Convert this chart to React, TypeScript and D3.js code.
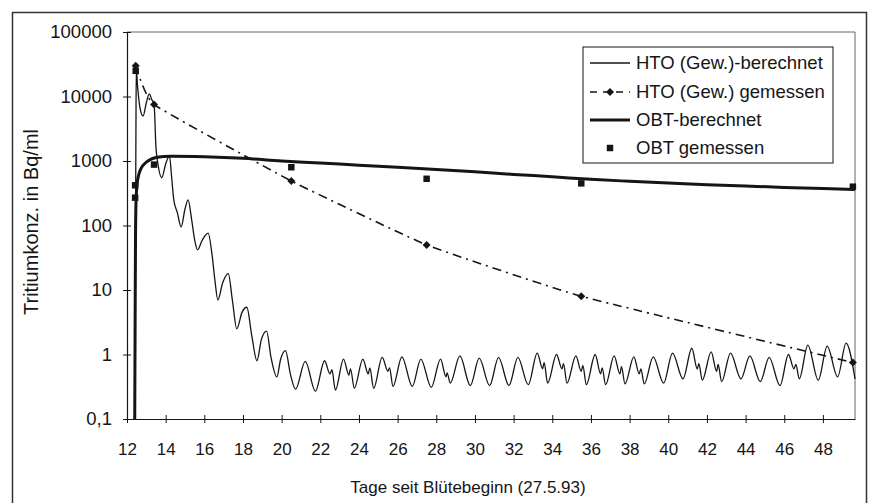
import React, { useEffect, useRef } from 'react';
import * as d3 from 'd3';

// HTO (Gew.)-berechnet: [Tag, Bq/ml] (peaks / notches / troughs)
const htoCalc: [number, number][] = [
	[12.4, 0.1], [12.43, 20], [12.46, 2000], [12.48, 27000], [12.55, 14000],
	[12.68, 6500], [12.83, 5000], [13.0, 8000], [13.15, 11000], [13.28, 9000],
	[13.4, 7500], [13.5, 1600], [13.6, 900], [13.8, 550], [14.0, 900],
	[14.2, 1200], [14.3, 600], [14.42, 250], [14.6, 160], [14.8, 95],
	[15.0, 180], [15.16, 250], [15.35, 120], [15.5, 60], [15.65, 42],
	[15.9, 60], [16.2, 76], [16.4, 35], [16.55, 14], [16.7, 7],
	[16.95, 13], [17.24, 18], [17.45, 7], [17.68, 2.5], [17.95, 4.5],
	[18.2, 5.4], [18.45, 2], [18.72, 0.8], [18.95, 1.7], [19.22, 2.3],
	[19.45, 0.9], [19.75, 0.45], [19.95, 0.85], [20.2, 1.15], [20.45, 0.5],
	[20.72, 0.29], [21.22, 0.78], [21.75, 0.27],
	[22.22, 0.8], [22.5, 0.5], [22.6, 0.58], [22.78, 0.28],
	[23.2, 0.85], [23.48, 0.48], [23.56, 0.6], [23.76, 0.3],
	[24.2, 0.85], [24.48, 0.5], [24.56, 0.62], [24.76, 0.3],
	[25.2, 0.9], [25.5, 0.55], [25.58, 0.62], [25.76, 0.32],
	[26.22, 0.92], [26.76, 0.32],
	[27.2, 0.85], [27.74, 0.31],
	[28.22, 0.85], [28.5, 0.45], [28.56, 0.52], [28.72, 0.36],
	[29.22, 0.95], [29.76, 0.33],
	[30.22, 0.88], [30.76, 0.33],
	[31.22, 0.9], [31.76, 0.33],
	[32.22, 0.9], [32.76, 0.34],
	[33.22, 1.05], [33.5, 0.6], [33.58, 0.75], [33.76, 0.36],
	[34.22, 1.0], [34.5, 0.6], [34.58, 0.72], [34.76, 0.36],
	[35.22, 0.95], [35.5, 0.55], [35.58, 0.68], [35.76, 0.34],
	[36.22, 1.0], [36.5, 0.5], [36.58, 0.62], [36.76, 0.34],
	[37.2, 0.95], [37.5, 0.5], [37.58, 0.65], [37.76, 0.35],
	[38.22, 0.92], [38.5, 0.5], [38.58, 0.6], [38.76, 0.35],
	[39.22, 0.92], [39.76, 0.36],
	[40.22, 1.05], [40.76, 0.42],
	[41.22, 1.25], [41.5, 0.6], [41.58, 0.72], [41.76, 0.4],
	[42.22, 1.1], [42.5, 0.55], [42.58, 0.7], [42.76, 0.38],
	[43.22, 1.05], [43.76, 0.42],
	[44.22, 0.95], [44.76, 0.38],
	[45.22, 0.9], [45.78, 0.33],
	[46.22, 1.0], [46.5, 0.6], [46.6, 0.7], [46.78, 0.42],
	[47.22, 1.4], [47.76, 0.4],
	[48.22, 1.35], [48.76, 0.45],
	[49.2, 1.5], [49.66, 0.42],
];

// HTO (Gew.) gemessen
const htoMeasDays = [12.45, 13.4, 20.5, 27.5, 35.5, 49.55];
const htoMeasValues = [30000, 7500, 490, 50, 8, 0.75];

// OBT-berechnet
const obtCalcDays = [
	12.4, 12.42, 12.44, 12.47, 12.52, 12.6, 12.75, 12.95, 13.2, 13.5, 13.9, 14.3,
	16, 18, 20, 22, 24, 26, 28, 30, 32, 34, 36, 38, 40, 42, 44, 46, 48, 49.66,
];
const obtCalcValues = [
	0.1, 3, 60, 250, 430, 600, 790, 930, 1050, 1130, 1170, 1180,
	1160, 1100, 1000, 930, 860, 800, 740, 680, 620, 570, 520, 485, 455, 430, 410, 390, 375, 360,
];

// OBT gemessen
const obtMeasDays = [12.42, 12.42, 12.45, 13.4, 20.5, 27.5, 35.5, 49.55];
const obtMeasValues = [420, 270, 25000, 880, 800, 530, 450, 400];

const xTicks = [12, 14, 16, 18, 20, 22, 24, 26, 28, 30, 32, 34, 36, 38, 40, 42, 44, 46, 48];
const yTicks = [0.1, 1, 10, 100, 1000, 10000, 100000];
const yTickLabels = ['0,1', '1', '10', '100', '1000', '10000', '100000'];
const legendLabels = [
	'HTO (Gew.)-berechnet',
	'HTO (Gew.) gemessen',
	'OBT-berechnet',
	'OBT gemessen',
];

const W = 869;
const H = 503;
const plot = { left: 127, right: 855, top: 32, bottom: 419 };
const font = "'Liberation Sans', Arial, sans-serif";
const ink = '#151515';

const App: React.FC = () => {
	const ref = useRef<SVGSVGElement>(null);

	useEffect(() => {
		if (!ref.current) return;
		const svg = d3.select(ref.current);
		svg.selectAll('*').remove();

		svg.append('rect').attr('width', W).attr('height', H).attr('fill', '#fff');

		// outer frame
		svg
			.append('rect')
			.attr('x', 12.5)
			.attr('y', 12.5)
			.attr('width', 854)
			.attr('height', 500)
			.attr('fill', 'none')
			.attr('stroke', '#333')
			.attr('stroke-width', 1.5);

		const x = d3.scaleLinear().domain([12, 49.66]).range([plot.left, plot.right]);
		const y = d3.scaleLog().domain([0.1, 100000]).range([plot.bottom, plot.top]);

		// plot area border (top / right)
		svg
			.append('path')
			.attr('d', `M${plot.left},${plot.top}H${plot.right}V${plot.bottom}`)
			.attr('fill', 'none')
			.attr('stroke', '#666')
			.attr('stroke-width', 1);

		// --- Axes ---
		const gx = svg
			.append('g')
			.attr('transform', `translate(0,${plot.bottom})`)
			.call(
				d3
					.axisBottom(x)
					.tickValues(xTicks)
					.tickSize(4)
					.tickPadding(20)
					.tickSizeOuter(0),
			);
		gx.selectAll('.tick line').attr('y1', -4).attr('y2', 4);
		gx.select('.domain').attr('stroke', ink).attr('stroke-width', 1.2);
		gx.selectAll('line').attr('stroke', ink);
		gx.selectAll('text')
			.attr('font-family', font)
			.attr('font-size', 17)
			.attr('fill', ink);

		const gy = svg
			.append('g')
			.attr('transform', `translate(${plot.left},0)`)
			.call(
				d3
					.axisLeft(y)
					.tickValues(yTicks)
					.tickFormat((_, i) => yTickLabels[i])
					.tickSize(4)
					.tickPadding(11)
					.tickSizeOuter(0),
			);
		gy.selectAll('.tick line').attr('x1', 4).attr('x2', -4);
		gy.select('.domain').attr('stroke', ink).attr('stroke-width', 1.2);
		gy.selectAll('line').attr('stroke', ink);
		gy.selectAll('text')
			.attr('font-family', font)
			.attr('font-size', 18.5)
			.attr('fill', ink);

		// axis titles
		svg
			.append('text')
			.attr('x', 468)
			.attr('y', 493)
			.attr('text-anchor', 'middle')
			.attr('font-family', font)
			.attr('font-size', 17)
			.attr('fill', ink)
			.text('Tage seit Blütebeginn (27.5.93)');

		svg
			.append('text')
			.attr('transform', 'translate(38,222) rotate(-90)')
			.attr('text-anchor', 'middle')
			.attr('font-family', font)
			.attr('font-size', 20)
			.attr('fill', ink)
			.text('Tritiumkonz. in Bq/ml');

		// --- Lines ---
		const line = d3
			.line<[number, number]>()
			.x((d) => x(d[0]))
			.y((d) => y(d[1]))
			.curve(d3.curveMonotoneX);

		// measured HTO points joined with a gentler smoothing (closer to Excel look)
		const measLine = d3
			.line<[number, number]>()
			.x((d) => x(d[0]))
			.y((d) => y(d[1]))
			.curve(d3.curveCardinal.tension(0.65));

		const obtCalc = obtCalcDays.map((d, i) => [d, obtCalcValues[i]] as [number, number]);
		const htoMeas = htoMeasDays.map((d, i) => [d, htoMeasValues[i]] as [number, number]);
		const obtMeas = obtMeasDays.map((d, i) => [d, obtMeasValues[i]] as [number, number]);

		svg
			.append('path')
			.attr('d', line(obtCalc))
			.attr('fill', 'none')
			.attr('stroke', ink)
			.attr('stroke-width', 3);

		svg
			.append('path')
			.attr('d', line(htoCalc))
			.attr('fill', 'none')
			.attr('stroke', ink)
			.attr('stroke-width', 1.3)
			.attr('stroke-linejoin', 'round');

		svg
			.append('path')
			.attr('d', measLine(htoMeas))
			.attr('fill', 'none')
			.attr('stroke', ink)
			.attr('stroke-width', 1.6)
			.attr('stroke-dasharray', '9,5,2,5');

		const diamond = d3.symbol().type(d3.symbolSquare).size(32);
		const square = d3.symbol().type(d3.symbolSquare).size(42);

		svg
			.append('g')
			.selectAll('path')
			.data(obtMeas)
			.enter()
			.append('path')
			.attr('d', square() as string)
			.attr('transform', (d) => `translate(${x(d[0])},${y(d[1])})`)
			.attr('fill', ink);

		svg
			.append('g')
			.selectAll('path')
			.data(htoMeas)
			.enter()
			.append('path')
			.attr('d', diamond() as string)
			.attr('transform', (d) => `translate(${x(d[0])},${y(d[1])}) rotate(45)`)
			.attr('fill', ink);

		// --- Legend ---
		const lg = svg.append('g').attr('transform', 'translate(583,47)');
		lg.append('rect')
			.attr('width', 250)
			.attr('height', 116)
			.attr('fill', '#fff')
			.attr('stroke', ink)
			.attr('stroke-width', 1);

		const rows = [16, 45, 73, 101];
		const items = lg
			.selectAll('g.item')
			.data(legendLabels)
			.enter()
			.append('g')
			.attr('class', 'item')
			.attr('transform', (_, i) => `translate(0,${rows[i]})`);

		items
			.append('text')
			.attr('x', 53)
			.attr('dy', '0.35em')
			.attr('font-family', font)
			.attr('font-size', 18.5)
			.attr('fill', ink)
			.text((d) => d);

		items
			.filter((_, i) => i === 0)
			.append('line')
			.attr('x1', 7)
			.attr('x2', 47)
			.attr('stroke', ink)
			.attr('stroke-width', 1.3);
		items
			.filter((_, i) => i === 1)
			.append('line')
			.attr('x1', 7)
			.attr('x2', 47)
			.attr('stroke', ink)
			.attr('stroke-width', 1.6)
			.attr('stroke-dasharray', '7,6');
		items
			.filter((_, i) => i === 1)
			.append('path')
			.attr('d', diamond() as string)
			.attr('transform', 'translate(27,0) rotate(45)')
			.attr('fill', ink);
		items
			.filter((_, i) => i === 2)
			.append('line')
			.attr('x1', 7)
			.attr('x2', 47)
			.attr('stroke', ink)
			.attr('stroke-width', 3);
		items
			.filter((_, i) => i === 3)
			.append('path')
			.attr('d', square() as string)
			.attr('transform', 'translate(27,0)')
			.attr('fill', ink);
	}, []);

	return (
		<svg
			ref={ref}
			width={W}
			height={H}
			style={{ position: 'absolute', left: 0, top: 0, display: 'block' }}
		/>
	);
};

export default App;
